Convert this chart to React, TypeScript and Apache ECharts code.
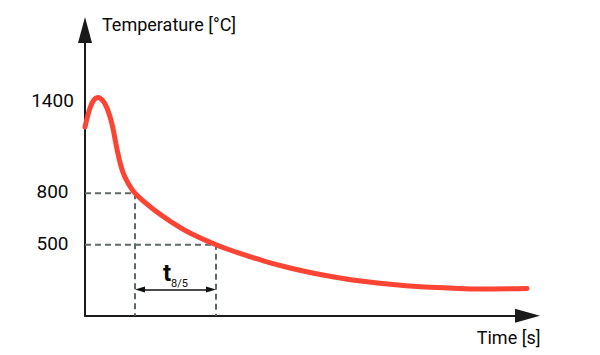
import React, { useEffect, useRef } from "react";
import * as echarts from "echarts";

// Cooling curve (time in arbitrary units, temperature in °C)
const timeValues = [0, 1.13, 2.03, 3.05, 4.07, 4.75, 5.42, 5.99, 6.44, 6.89, 7.34, 7.91, 8.66, 9.72, 11.3, 15.37, 19.21, 23.73, 29.6, 35.03, 40.68, 46.33, 51.98, 57.63, 63.28, 68.93, 75.71, 82.49, 89.27, 99.89];
const tempValues = [1187, 1298, 1345, 1359, 1339, 1310, 1266, 1216, 1164, 1102, 1044, 980, 917, 860, 800, 708, 638, 568, 500, 449, 403, 364, 332, 306, 285, 269, 255, 247, 241, 244];

const tempTicks = [500, 800, 1400];
const t8 = 11.3; // time at 800 °C
const t5 = 29.6; // time at 500 °C
const T8 = 800;
const T5 = 500;
const arrowLevel = 239;

const xMin = 0;
const xMax = 100;
const yMin = 85.6;
const yMax = 1753;

export default function App() {
  const ref = useRef<HTMLDivElement>(null);
  useEffect(() => {
    document.body.style.margin = "0";
    if (!ref.current) return;
    const chart = echarts.init(ref.current, null, { renderer: "svg" });
    const font = "Roboto";
    const axisColor = "#1a1a1a";
    const dashColor = "#5e6b64";
    const textColor = "#0a0a0a";
    const arrowPad = 5 / 4.425;
    chart.setOption({
      animation: false,
      grid: { left: 85, top: 30, right: 72.5, bottom: 39.3, outerBoundsMode: "none" },
      xAxis: {
        type: "value",
        min: xMin,
        max: xMax,
        name: "Time [s]",
        nameLocation: "end",
        nameGap: 13,
        nameTextStyle: { fontFamily: font, fontSize: 18, color: textColor, align: "right", verticalAlign: "top", padding: [13, 0, 0, 0] },
        axisLine: { show: true, symbol: ["none", "triangle"], symbolSize: [14, 25], lineStyle: { color: axisColor, width: 2 } },
        axisTick: { show: false },
        axisLabel: { show: false },
        splitLine: { show: false },
      },
      yAxis: {
        type: "value",
        min: yMin,
        max: yMax,
        name: "Temperature [°C]",
        nameLocation: "end",
        nameGap: 6,
        nameTextStyle: { fontFamily: font, fontSize: 18, color: textColor, align: "left", verticalAlign: "middle", padding: [0, 0, 0, 17] },
        axisLine: { show: true, symbol: ["none", "triangle"], symbolSize: [14, 26], lineStyle: { color: axisColor, width: 2 } },
        axisTick: { show: false },
        splitLine: { show: false },
        axisLabel: {
          show: true,
          customValues: tempTicks,
          align: "center",
          margin: 32.5,
          fontFamily: font,
          fontSize: 19,
          color: textColor,
          formatter: (v: number) => (v === 1400 ? "{hi|1400}" : "{n|" + v + "}"),
          rich: {
            hi: { fontFamily: font, fontSize: 19, color: textColor, padding: [20, 0, 0, 0] },
            n: { fontFamily: font, fontSize: 19, color: textColor, padding: [0, 0, 3, 0] },
          },
        },
      },
      series: [
        {
          type: "line",
          data: [[xMin, T8], [t8, T8], [t8, yMin]],
          symbol: "none",
          lineStyle: { color: dashColor, width: 2, type: [6, 4] },
          z: 1,
          silent: true,
        },
        {
          type: "line",
          data: [[xMin, T5], [t5, T5], [t5, yMin]],
          symbol: "none",
          lineStyle: { color: dashColor, width: 2, type: [6, 4] },
          z: 1,
          silent: true,
          markLine: {
            silent: true,
            symbol: ["triangle", "triangle"],
            symbolSize: [6, 10],
            lineStyle: { color: "#111", width: 1.5, type: "solid" },
            label: {
              show: true,
              position: "middle",
              distance: 4,
              formatter: "{t|t}{s|8/5}",
              rich: {
                t: { fontFamily: font, fontSize: 24, fontWeight: "bold", color: textColor },
                s: { fontFamily: font, fontSize: 11, color: textColor, verticalAlign: "bottom", padding: [0, 0, -4, 0] },
              },
            },
            data: [[{ coord: [t8 + arrowPad, arrowLevel] }, { coord: [t5 - arrowPad, arrowLevel] }]],
          },
        },
        {
          type: "line",
          data: timeValues.map((t, i) => [t, tempValues[i]]),
          symbol: "none",
          smooth: 0.35,
          lineStyle: { color: "#fb4434", width: 5, cap: "round", join: "round" },
          z: 3,
          silent: true,
        },
      ],
    });
    return () => chart.dispose();
  }, []);
  return <div ref={ref} style={{ width: 600, height: 355 }} />;
}
